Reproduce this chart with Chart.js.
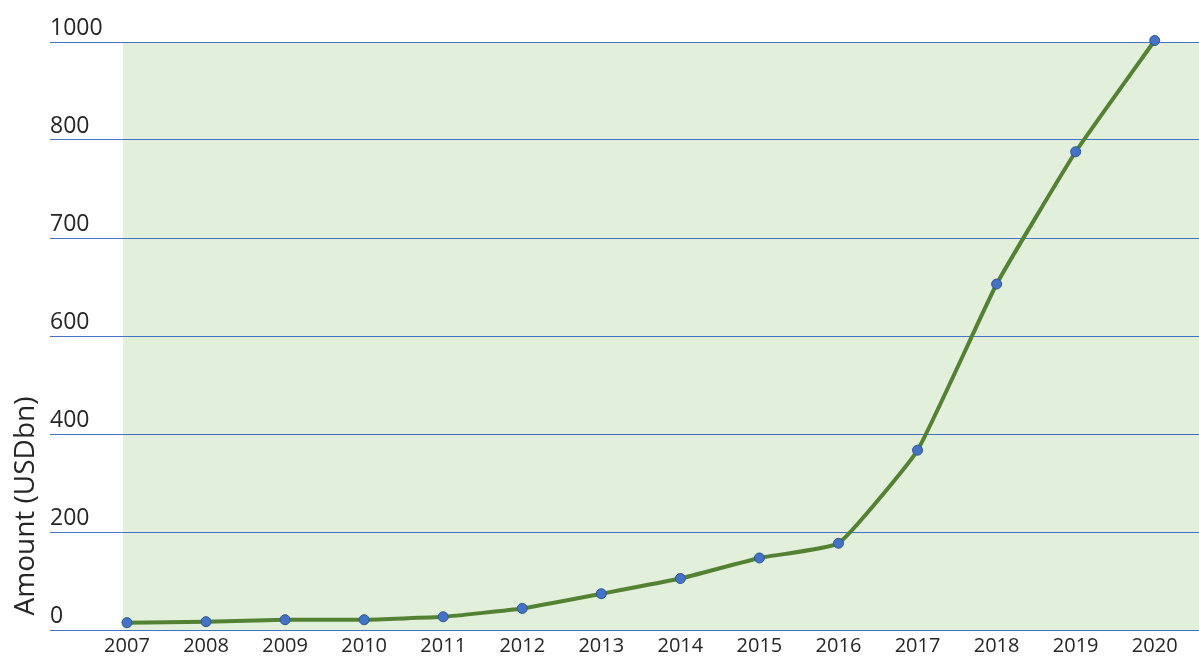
<!DOCTYPE html>
<html>
<head>
<meta charset="utf-8">
<script src="https://cdn.jsdelivr.net/npm/chart.js@4.4.1/dist/chart.umd.min.js"></script>
<style>
  html, body { margin: 0; padding: 0; background: #fff; }
  #wrap { width: 1199px; height: 662px; position: relative; }
</style>
</head>
<body>
<div id="wrap"><canvas id="amountChart"></canvas></div>
<script>
// Data
const years = [2007, 2008, 2009, 2010, 2011, 2012, 2013, 2014, 2015, 2016, 2017, 2018, 2019, 2020];
const amounts = [15, 17, 21, 21, 27, 44, 74, 105, 147, 177, 367, 653, 788, 1003];
const yTicks = [0, 200, 400, 600, 700, 800, 1000];
const yTitle = "Amount (USDbn)";

// Y scale that spaces the listed ticks evenly (the original axis is not linear)
class TickStepScale extends Chart.LinearScale {
  buildTicks() {
    return yTicks.map(function (v) { return { value: v }; });
  }
  getPixelForValue(value) {
    const n = yTicks.length - 1;
    let i = 0;
    while (i < n - 1 && value > yTicks[i + 1]) i++;
    const pos = i + (value - yTicks[i]) / (yTicks[i + 1] - yTicks[i]);
    return this.getPixelForDecimal(pos / n);
  }
  getValueForPixel(pixel) {
    const n = yTicks.length - 1;
    const pos = this.getDecimalForPixel(pixel) * n;
    const i = Math.max(0, Math.min(Math.floor(pos), n - 1));
    return yTicks[i] + (pos - i) * (yTicks[i + 1] - yTicks[i]);
  }
}
TickStepScale.id = "tickstep";
TickStepScale.defaults = Chart.LinearScale.defaults;
Chart.register(TickStepScale);

// Green plot background + rotated axis title
const decorPlugin = {
  id: "decor",
  beforeDraw: function (chart) {
    const a = chart.chartArea;
    const ctx = chart.ctx;
    ctx.save();
    ctx.fillStyle = "#E2EFDA";
    ctx.fillRect(a.left, a.top, a.right - a.left, a.bottom - a.top);
    ctx.restore();
  },
  afterDraw: function (chart) {
    const ctx = chart.ctx;
    ctx.save();
    ctx.translate(26, 506);
    ctx.rotate(-Math.PI / 2);
    ctx.font = '28px "Open Sans"';
    ctx.fillStyle = "#262626";
    ctx.textAlign = "center";
    ctx.textBaseline = "middle";
    ctx.fillText(yTitle, 0, 0);
    ctx.restore();
  },
};

const ctx = document.getElementById("amountChart").getContext("2d");
const amountChart = new Chart(ctx, {
  type: "line",
  data: {
    datasets: [
      {
        data: years.map(function (y, i) { return { x: y, y: amounts[i] }; }),
        borderColor: "#548235",
        borderWidth: 4,
        tension: 0.12,
        pointRadius: 5,
        pointBackgroundColor: "#4472C4",
        pointBorderColor: "#2F5597",
        pointBorderWidth: 1,
        clip: false,
        fill: false,
      },
    ],
  },
  options: {
    responsive: true,
    maintainAspectRatio: false,
    animation: false,
    layout: {
      autoPadding: false,
      padding: { left: 50, top: 42, right: 0, bottom: 0 },
    },
    scales: {
      x: {
        type: "linear",
        min: 2006.95,
        max: 2020.56,
        afterBuildTicks: function (scale) {
          scale.ticks = years.map(function (v) { return { value: v }; });
        },
        grid: { display: false, drawTicks: false },
        border: { display: false },
        ticks: {
          autoSkip: false,
          maxRotation: 0,
          padding: 4,
          color: "#262626",
          font: { family: "Open Sans", size: 20 },
          callback: function (value) { return String(value); },
        },
      },
      y: {
        type: "tickstep",
        min: 0,
        max: 1000,
        afterFit: function (scale) {
          scale.width = 73;
        },
        grid: {
          color: "#4472C4",
          lineWidth: 1,
          drawTicks: true,
          tickLength: 73,
        },
        border: { display: false },
        ticks: {
          crossAlign: "far",
          labelOffset: -14,
          padding: 0,
          color: "#262626",
          font: { family: "Open Sans", size: 23 },
          callback: function (value) { return String(value); },
        },
      },
    },
    plugins: {
      legend: { display: false },
      tooltip: { enabled: false },
    },
  },
  plugins: [decorPlugin],
});
</script>
</body>
</html>
